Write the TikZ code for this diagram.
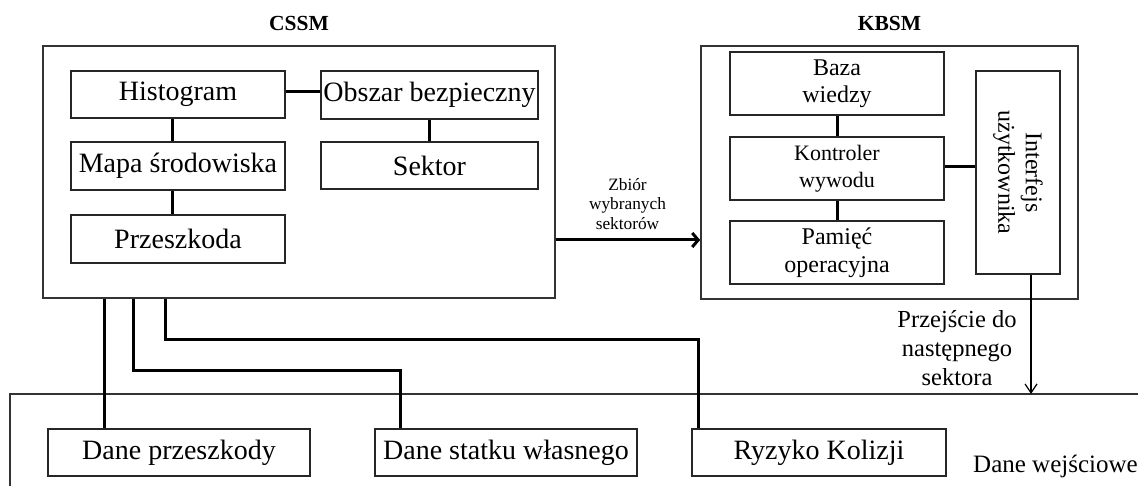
\documentclass[tikz,border=0pt]{standalone}
\usepackage{fontspec}
\setmainfont{Liberation Serif}
\usetikzlibrary{arrows.meta}
\begin{document}
\begin{tikzpicture}[x=1pt,y=-1pt,
  outerbox/.style={draw=black!80, line width=1.6pt, inner sep=0pt},
  innerbox/.style={draw=black!85, line width=2pt, inner sep=0pt, align=center},
  link/.style={draw=black, line width=3pt},
  bigtxt/.style={font=\fontsize{28}{32}\selectfont},
  midtxt/.style={font=\fontsize{24}{27.5}\selectfont},
  title/.style={font=\fontsize{21.5}{24}\selectfont\bfseries, inner sep=0pt},
]
\useasboundingbox (0,0) rectangle (1138,486);

% ---------- CSSM ----------
\node[title] (tcssm) at (299,23) {CSSM};
\node[outerbox, minimum width=512, minimum height=252] (cssm) at (299,172) {};
\node[innerbox, bigtxt, minimum width=214, minimum height=47] (hist) at (178,94.5) {Histogram};
\node[innerbox, bigtxt, minimum width=214, minimum height=48] (mapa) at (178,166) {Mapa środowiska};
\node[innerbox, bigtxt, minimum width=214, minimum height=48] (prz) at (178,239) {Przeszkoda};
\node[innerbox, bigtxt, minimum width=217, minimum height=48] (obsz) at (429.5,95) {Obszar bezpieczny};
\node[innerbox, bigtxt, minimum width=217, minimum height=47] (sekt) at (429.5,165.5) {Sektor};

\draw[link] ([xshift=-6pt]hist.south) -- ([xshift=-6pt]mapa.north);
\draw[link] ([xshift=-6pt]mapa.south) -- ([xshift=-6pt]prz.north);
\draw[link] ([yshift=2.5pt]hist.east) -- ([yshift=2.5pt]hist.east -| obsz.west);
\draw[link] (obsz.south) -- (sekt.north);

% ---------- KBSM ----------
\node[title] (tkbsm) at (889.5,23) {KBSM};
\node[outerbox, minimum width=377, minimum height=253] (kbsm) at (889.5,172.5) {};
\node[innerbox, midtxt, minimum width=214, minimum height=63] (baza) at (837,83.5) {Baza\\wiedzy};
\node[innerbox, font=\fontsize{22}{27}\selectfont, minimum width=214, minimum height=63] (kontr) at (837,168.5) {Kontroler\\wywodu};
\node[innerbox, midtxt, minimum width=214, minimum height=63] (pam) at (837,252.5) {Pamięć\\operacyjna};
\node[draw=black!85, line width=2pt, minimum width=84, minimum height=203, inner sep=0pt] (intf) at (1018,172.5) {};
\node[midtxt, rotate=-90, align=center, inner sep=0pt] (intftxt) at (intf.center) {Interfejs\\użytkownika};

\draw[link] (baza.south) -- (kontr.north);
\draw[link] (kontr.south) -- (pam.north);
\draw[link] (kontr.east |- 0,167) -- (intf.west |- 0,167);

% ---------- sectors passed from CSSM to KBSM ----------
\coordinate (zb) at (0,240);
\draw[link, -{Straight Barb[length=6pt,width=14pt]}] (cssm.east |- zb) -- (kbsm.west |- zb);
\node[font=\fontsize{17.3}{19.5}\selectfont, align=center, inner sep=0pt] (zbtxt) at (627.5,204) {Zbiór\\wybranych\\sektorów};

% ---------- input data ----------
\coordinate (dwtl) at (10,394);
\coordinate (dwbl) at (10,490);
\coordinate (dwtr) at (1140,394);
\draw[black!80, line width=1.6pt] (dwbl) -- (dwtl) -- (dwtr);
\node[font=\fontsize{25}{28}\selectfont, anchor=west, inner sep=0pt] (dwtxt) at (973,466) {Dane wejściowe};

\node[innerbox, bigtxt, minimum width=262, minimum height=47] (dprz) at (179,452.5) {Dane przeszkody};
\node[innerbox, bigtxt, minimum width=262, minimum height=47] (dstat) at (506,452.5) {Dane statku własnego};
\node[innerbox, bigtxt, minimum width=254, minimum height=47] (ryz) at (819,452.5) {Ryzyko Kolizji};

% taps leaving the CSSM block
\coordinate (t1) at (104,0);
\coordinate (t2) at (133,0);
\coordinate (t3) at (165,0);
\coordinate (r2) at (400,370);
\coordinate (r3) at (698,340);
\draw[link] (cssm.south -| t1) -- (dprz.north -| t1);
\draw[link] (cssm.south -| t2) |- (r2) -- (dstat.north -| r2);
\draw[link] (cssm.south -| t3) |- (r3) -- (ryz.north -| r3);

% ---------- move to next sector ----------
\coordinate (nx) at (1031,0);
\draw[link, line width=2.6pt, -{Straight Barb[length=9pt,width=12pt,line width=1.2pt]}] (intf.south -| nx) -- (dwtl -| nx);
\node[font=\fontsize{24.5}{29}\selectfont, align=center, inner sep=0pt] (ptxt) at (957,348) {Przejście do\\następnego\\sektora};
\end{tikzpicture}
\end{document}
